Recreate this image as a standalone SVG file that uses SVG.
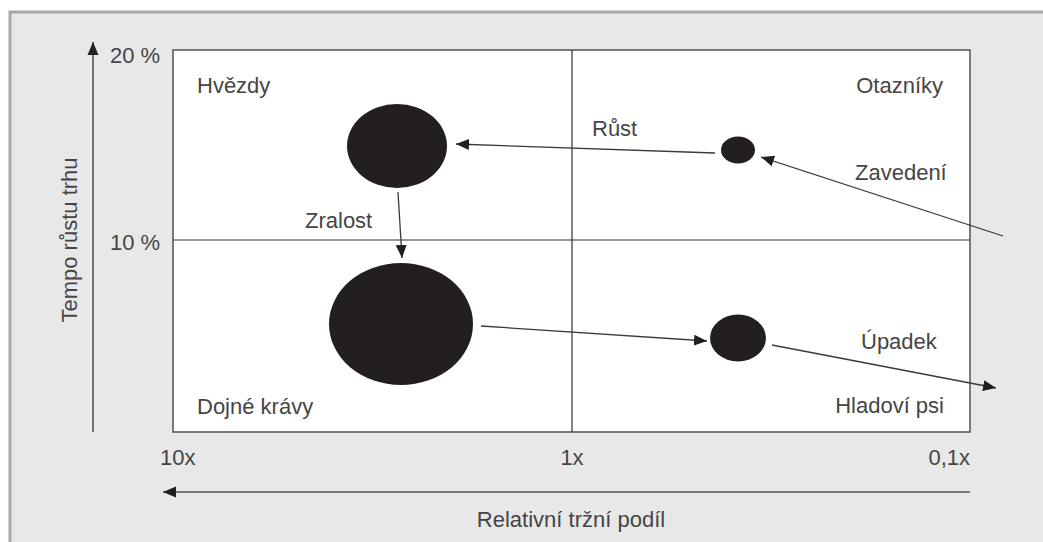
<svg xmlns="http://www.w3.org/2000/svg" width="1043" height="542" viewBox="0 0 1043 542">
<style>
.t{font-family:"Liberation Sans",Arial,sans-serif;font-size:22px;fill:#454545}
.bubble{fill:#231f20}
.conn{stroke:#3a3a3a;stroke-width:1.3;fill:none}
.axis{stroke:#555;stroke-width:1.6;fill:none}
</style>
<defs>
<marker id="ah" markerUnits="userSpaceOnUse" markerWidth="14" markerHeight="12" refX="13" refY="6" orient="auto">
<path d="M0,0.5 L13,6 L0,11.5 z" fill="#231f20"/>
</marker>
</defs>
<rect x="0" y="0" width="1043" height="542" fill="#ffffff"/>
<rect x="10" y="12" width="1045" height="545" fill="#e8e8e8" stroke="#a8a8a8" stroke-width="3"/>
<g id="matrix">
<rect x="173" y="50" width="797" height="382" fill="#ffffff" stroke="#5a5a5a" stroke-width="1.6"/>
<line x1="572" y1="50" x2="572" y2="432" stroke="#333" stroke-width="1.2"/>
<line x1="173" y1="240" x2="970" y2="240" stroke="#333" stroke-width="1.2"/>
</g>
<g id="axes">
<line class="axis" x1="93" y1="432" x2="93" y2="42" marker-end="url(#ah)"/>
<line class="axis" x1="970" y1="492" x2="163" y2="492" marker-end="url(#ah)"/>
<text class="t" x="110" y="63">20 %</text>
<text class="t" x="110" y="250">10 %</text>
<text class="t" transform="translate(77,240) rotate(-90)" text-anchor="middle">Tempo růstu trhu</text>
<text class="t" x="160" y="465">10x</text>
<text class="t" x="572" y="465" text-anchor="middle">1x</text>
<text class="t" x="970" y="465" text-anchor="end">0,1x</text>
<text class="t" x="571" y="527" text-anchor="middle">Relativní tržní podíl</text>
</g>
<g id="quadrant-labels">
<text class="t" x="197" y="93">Hvězdy</text>
<text class="t" x="943" y="93" text-anchor="end">Otazníky</text>
<text class="t" x="197" y="414">Dojné krávy</text>
<text class="t" x="944" y="413" text-anchor="end">Hladoví psi</text>
</g>
<g id="star"><ellipse class="bubble" cx="397" cy="146" rx="50" ry="42"/></g>
<g id="question"><ellipse class="bubble" cx="738" cy="150" rx="17" ry="13.5"/></g>
<g id="cow"><ellipse class="bubble" cx="401" cy="324" rx="72" ry="61"/></g>
<g id="dog"><ellipse class="bubble" cx="738" cy="338" rx="28" ry="23.5"/></g>
<g id="connectors">
<line class="conn" x1="715" y1="153" x2="456" y2="144" marker-end="url(#ah)"/>
<line class="conn" x1="1003" y1="236" x2="761" y2="157" marker-end="url(#ah)"/>
<line class="conn" x1="398" y1="192" x2="402" y2="258" marker-end="url(#ah)"/>
<line class="conn" x1="481" y1="326" x2="707" y2="341" marker-end="url(#ah)"/>
<line class="conn" x1="772" y1="345" x2="996" y2="388" marker-end="url(#ah)"/>
<text class="t" x="592" y="136">Růst</text>
<text class="t" x="855" y="180">Zavedení</text>
<text class="t" x="305" y="228">Zralost</text>
<text class="t" x="861" y="349">Úpadek</text>
</g>
</svg>
